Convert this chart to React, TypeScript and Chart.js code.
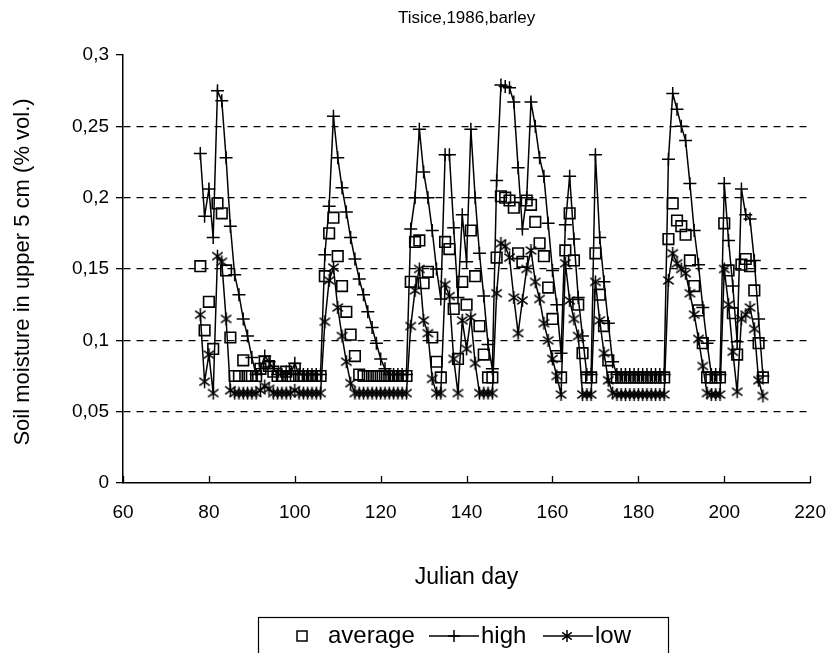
import React, { useEffect, useRef } from "react";
import { Chart, registerables } from "chart.js";

Chart.register(...registerables);

const FONT = '"Liberation Sans", Arial, sans-serif';

const chartTitle = "Tisice,1986,barley";
const xAxisTitle = "Julian day";
const yAxisTitle = "Soil moisture in upper 5 cm (% vol.)";
const seriesNames = ["average", "high", "low"];

const xTicks = [60, 80, 100, 120, 140, 160, 180, 200, 220];
const yTickLabels = ["0", "0,05", "0,1", "0,15", "0,2", "0,25", "0,3"];

const days = [
  78, 79, 80, 81, 82, 83, 84, 85, 86, 87, 88, 89, 90, 91, 92, 93, 94, 95, 96, 97,
  98, 99, 100, 101, 102, 103, 104, 105, 106, 107, 108, 109, 110, 111, 112, 113, 114, 115, 116, 117,
  118, 119, 120, 121, 122, 123, 124, 125, 126, 127, 128, 129, 130, 131, 132, 133, 134, 135, 136, 137,
  138, 139, 140, 141, 142, 143, 144, 145, 146, 147, 148, 149, 150, 151, 152, 153, 154, 155, 156, 157,
  158, 159, 160, 161, 162, 163, 164, 165, 166, 167, 168, 169, 170, 171, 172, 173, 174, 175, 176, 177,
  178, 179, 180, 181, 182, 183, 184, 185, 186, 187, 188, 189, 190, 191, 192, 193, 194, 195, 196, 197,
  198, 199, 200, 201, 202, 203, 204, 205, 206, 207, 208, 209,
];

const average = [
  0.152, 0.107, 0.127, 0.094, 0.196, 0.189, 0.149, 0.102, 0.075, 0.075, 0.086, 0.075, 0.075, 0.075, 0.08, 0.085, 0.082, 0.078, 0.075, 0.075,
  0.078, 0.075, 0.08, 0.075, 0.075, 0.075, 0.075, 0.075, 0.075, 0.145, 0.175, 0.186, 0.159, 0.138, 0.12, 0.104, 0.089, 0.076, 0.075, 0.075,
  0.075, 0.075, 0.075, 0.075, 0.075, 0.075, 0.075, 0.075, 0.075, 0.141, 0.169, 0.17, 0.14, 0.148, 0.102, 0.085, 0.074, 0.169, 0.164, 0.122,
  0.087, 0.141, 0.125, 0.177, 0.145, 0.11, 0.09, 0.074, 0.074, 0.158, 0.201, 0.2, 0.198, 0.193, 0.161, 0.155, 0.198, 0.195, 0.183, 0.168,
  0.159, 0.137, 0.115, 0.089, 0.074, 0.163, 0.189, 0.156, 0.125, 0.091, 0.074, 0.074, 0.161, 0.132, 0.11, 0.086, 0.074, 0.074, 0.074, 0.074,
  0.074, 0.074, 0.074, 0.074, 0.074, 0.074, 0.074, 0.074, 0.074, 0.171, 0.196, 0.184, 0.18, 0.174, 0.156, 0.138, 0.121, 0.098, 0.074, 0.074,
  0.074, 0.074, 0.182, 0.149, 0.119, 0.09, 0.153, 0.157, 0.152, 0.135, 0.098, 0.074,
];

const high = [
  0.231, 0.187, 0.206, 0.172, 0.275, 0.268, 0.228, 0.18, 0.146, 0.132, 0.115, 0.103, 0.088, 0.076, 0.08, 0.089, 0.085, 0.08, 0.076, 0.076,
  0.078, 0.076, 0.084, 0.076, 0.076, 0.076, 0.076, 0.076, 0.076, 0.16, 0.194, 0.257, 0.228, 0.207, 0.19, 0.172, 0.157, 0.143, 0.132, 0.12,
  0.109, 0.098, 0.087, 0.08, 0.076, 0.076, 0.076, 0.076, 0.076, 0.178, 0.2, 0.248, 0.218, 0.2, 0.177, 0.15, 0.129, 0.23, 0.23, 0.179,
  0.13, 0.188, 0.155, 0.248, 0.2, 0.161, 0.131, 0.097, 0.08, 0.212, 0.279, 0.278, 0.277, 0.267, 0.221, 0.178, 0.2, 0.267, 0.25, 0.228,
  0.215, 0.182, 0.149, 0.125, 0.091, 0.181, 0.215, 0.171, 0.13, 0.103, 0.076, 0.076, 0.23, 0.172, 0.141, 0.112, 0.085, 0.076, 0.076, 0.076,
  0.076, 0.076, 0.076, 0.076, 0.076, 0.076, 0.076, 0.076, 0.076, 0.227, 0.273, 0.262, 0.25, 0.24, 0.21, 0.177, 0.153, 0.123, 0.098, 0.076,
  0.076, 0.076, 0.21, 0.17, 0.138, 0.099, 0.206, 0.188, 0.185, 0.156, 0.115, 0.075,
];

const low = [
  0.118, 0.071, 0.09, 0.063, 0.159, 0.155, 0.115, 0.065, 0.063, 0.063, 0.063, 0.063, 0.063, 0.063, 0.065, 0.068, 0.066, 0.063, 0.063, 0.063,
  0.063, 0.063, 0.065, 0.063, 0.063, 0.063, 0.063, 0.063, 0.063, 0.113, 0.142, 0.151, 0.123, 0.103, 0.085, 0.07, 0.063, 0.063, 0.063, 0.063,
  0.063, 0.063, 0.063, 0.063, 0.063, 0.063, 0.063, 0.063, 0.063, 0.11, 0.135, 0.15, 0.114, 0.105, 0.073, 0.063, 0.063, 0.139, 0.131, 0.087,
  0.063, 0.114, 0.094, 0.116, 0.084, 0.063, 0.063, 0.063, 0.063, 0.133, 0.168, 0.166, 0.158, 0.13, 0.105, 0.128, 0.15, 0.163, 0.141, 0.129,
  0.112, 0.1, 0.087, 0.075, 0.062, 0.154, 0.128, 0.115, 0.103, 0.062, 0.062, 0.062, 0.141, 0.114, 0.091, 0.072, 0.063, 0.062, 0.062, 0.062,
  0.062, 0.062, 0.062, 0.062, 0.062, 0.062, 0.062, 0.062, 0.062, 0.142, 0.161, 0.154, 0.15, 0.147, 0.133, 0.118, 0.101, 0.082, 0.063, 0.062,
  0.062, 0.062, 0.15, 0.125, 0.092, 0.064, 0.115, 0.118, 0.123, 0.108, 0.072, 0.061,
];

function strokeMarker(ctx: CanvasRenderingContext2D, style: string, x: number, y: number, r: number) {
  ctx.beginPath();
  if (style === "rect") {
    ctx.rect(x - r, y - r, 2 * r, 2 * r);
  } else if (style === "cross") {
    ctx.moveTo(x - r, y);
    ctx.lineTo(x + r, y);
    ctx.moveTo(x, y - r);
    ctx.lineTo(x, y + r);
  } else {
    const d = r * 0.8;
    ctx.moveTo(x, y - r);
    ctx.lineTo(x, y + r);
    ctx.moveTo(x - d, y - d * 0.75);
    ctx.lineTo(x + d, y + d * 0.75);
    ctx.moveTo(x - d, y + d * 0.75);
    ctx.lineTo(x + d, y - d * 0.75);
  }
  ctx.stroke();
}

function makeStar(): HTMLCanvasElement {
  const c = document.createElement("canvas");
  c.width = 15;
  c.height = 15;
  const g = c.getContext("2d")!;
  g.strokeStyle = "#000";
  g.lineWidth = 1.5;
  strokeMarker(g, "star", 7.5, 7.5, 6.5);
  return c;
}

const decorPlugin = {
  id: "decor",
  afterDraw(chart: any) {
    const ctx: CanvasRenderingContext2D = chart.ctx;
    const { left, right, bottom } = chart.chartArea;
    const xs = chart.scales.x;
    ctx.save();
    ctx.strokeStyle = "#000";
    ctx.fillStyle = "#000";
    ctx.lineWidth = 1.3;
    xTicks.forEach((v) => {
      const px = Math.round(xs.getPixelForValue(v)) + 0.5;
      ctx.beginPath();
      ctx.moveTo(px, bottom);
      ctx.lineTo(px, bottom - 7);
      ctx.stroke();
    });
    const cx = (left + right) / 2;
    ctx.textAlign = "center";
    ctx.textBaseline = "middle";
    ctx.font = `17px ${FONT}`;
    ctx.fillText(chartTitle, cx, 18);
    ctx.font = `23px ${FONT}`;
    ctx.fillText(xAxisTitle, cx, 578);
    ctx.save();
    ctx.translate(23, 272);
    ctx.rotate(-Math.PI / 2);
    ctx.font = `22px ${FONT}`;
    ctx.fillText(yAxisTitle, 0, 0);
    ctx.restore();

    // legend
    ctx.lineWidth = 1.2;
    ctx.strokeRect(258.5, 617.5, 410, 50);
    const ly = 636;
    ctx.lineWidth = 1.5;
    strokeMarker(ctx, "rect", 302, ly, 5);
    ctx.textAlign = "left";
    ctx.font = `24px ${FONT}`;
    ctx.fillText(seriesNames[0], 328, ly);
    ctx.beginPath();
    ctx.moveTo(429, ly);
    ctx.lineTo(479, ly);
    ctx.stroke();
    strokeMarker(ctx, "cross", 454, ly, 6);
    ctx.fillText(seriesNames[1], 481, ly);
    ctx.beginPath();
    ctx.moveTo(543, ly);
    ctx.lineTo(593, ly);
    ctx.stroke();
    strokeMarker(ctx, "star", 567, ly, 6);
    ctx.fillText(seriesNames[2], 595, ly);
    ctx.restore();
  },
};

export default function App() {
  const canvasRef = useRef<HTMLCanvasElement | null>(null);

  useEffect(() => {
    const canvas = canvasRef.current;
    if (!canvas) return;
    const star = makeStar();
    const pts = (arr: number[]) => days.map((d, i) => ({ x: d, y: arr[i] }));
    const chart = new Chart(canvas, {
      type: "scatter",
      data: {
        datasets: [
          {
            label: seriesNames[1],
            data: pts(high),
            showLine: true,
            borderColor: "#000",
            borderWidth: 1.5,
            pointStyle: "cross",
            pointRadius: 6.5,
            pointBorderWidth: 1.5,
            pointBorderColor: "#000",
            pointBackgroundColor: "rgba(0,0,0,0)",
            tension: 0,
          },
          {
            label: seriesNames[2],
            data: pts(low),
            showLine: true,
            borderColor: "#000",
            borderWidth: 1.5,
            pointStyle: star as any,
            pointRadius: 6,
            pointBorderColor: "#000",
            pointBackgroundColor: "rgba(0,0,0,0)",
            tension: 0,
          },
          {
            label: seriesNames[0],
            data: pts(average),
            showLine: false,
            borderColor: "#000",
            pointStyle: "rect",
            pointRadius: 7.5,
            pointBorderWidth: 1.6,
            pointBorderColor: "#000",
            pointBackgroundColor: "rgba(0,0,0,0)",
          },
        ],
      },
      options: {
        responsive: false,
        animation: false,
        layout: { padding: { top: 55, right: 22, left: 0, bottom: 0 } },
        plugins: {
          legend: { display: false },
          title: { display: false },
          tooltip: { enabled: false },
        },
        scales: {
          x: {
            type: "linear",
            min: 60,
            max: 220,
            afterFit: (s: any) => {
              s.height = 170;
            },
            afterBuildTicks: (s: any) => {
              s.ticks = xTicks.map((v) => ({ value: v }));
            },
            grid: { display: false },
            border: { display: true, color: "#000", width: 1.5 },
            ticks: {
              color: "#000",
              padding: 10,
              maxRotation: 0,
              font: { family: FONT, size: 19 },
              callback: (v: any) => String(v),
            },
          },
          y: {
            type: "linear",
            min: 0,
            max: 0.3,
            afterFit: (s: any) => {
              s.width = 123;
            },
            afterBuildTicks: (s: any) => {
              s.ticks = yTickLabels.map((_, i) => ({ value: i * 0.05 }));
            },
            grid: {
              display: true,
              drawOnChartArea: true,
              drawTicks: true,
              tickLength: 7,
              tickColor: "#000",
              tickWidth: 1.3,
              lineWidth: 1.3,
              color: (c: any) =>
                c.index === 0 || c.index === yTickLabels.length - 1 ? "rgba(0,0,0,0)" : "#000",
            },
            border: { display: true, color: "#000", width: 1.5, dash: [7, 6] },
            ticks: {
              color: "#000",
              padding: 7,
              font: { family: FONT, size: 19 },
              callback: (_v: any, i: number) => yTickLabels[i],
            },
          },
        },
      },
      plugins: [decorPlugin],
    });
    return () => chart.destroy();
  }, []);

  return (
    <div style={{ position: "absolute", left: 0, top: 0, width: 836, height: 653 }}>
      <canvas ref={canvasRef} width={836} height={653} style={{ display: "block" }} />
    </div>
  );
}
